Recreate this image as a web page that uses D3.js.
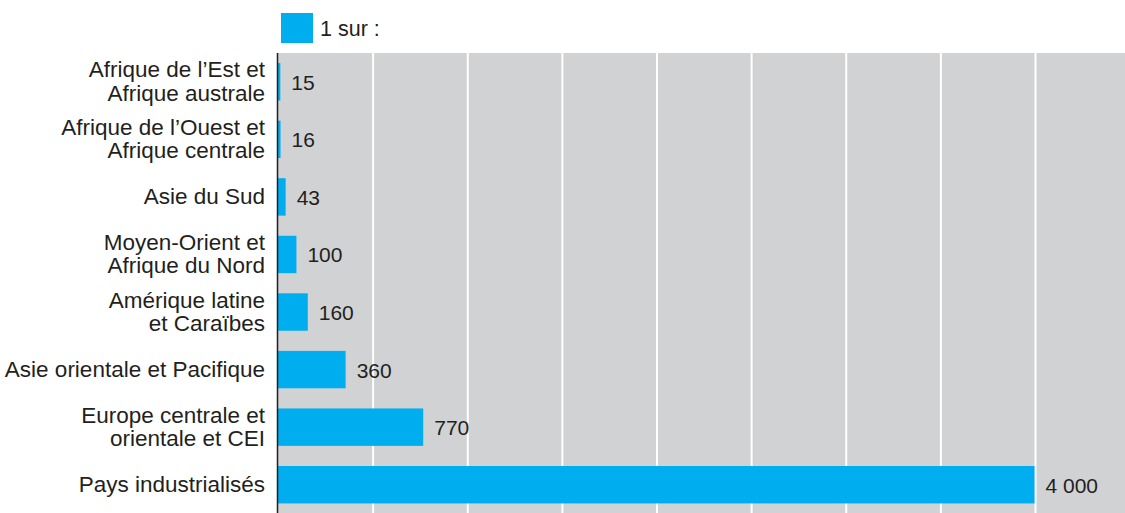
<!DOCTYPE html>
<html>
<head>
<meta charset="utf-8">
<script src="https://cdn.jsdelivr.net/npm/d3@7"></script>
<style>
  body { margin: 0; background: #fff; }
  text { font-family: "Liberation Sans", Arial, sans-serif; fill: #231f20; }
</style>
</head>
<body>
<div id="container"></div>
<script>
const width = 1125
const height = 513
const margin = {left: 277.5, top: 53, right: 0, bottom: 0}

// donnees
const categories = [
  "Afrique de l\u2019Est et\nAfrique australe",
  "Afrique de l\u2019Ouest et\nAfrique centrale",
  "Asie du Sud",
  "Moyen-Orient et\nAfrique du Nord",
  "Amérique latine\net Caraïbes",
  "Asie orientale et Pacifique",
  "Europe centrale et\norientale et CEI",
  "Pays industrialisés"
]
const values = [15, 16, 43, 100, 160, 360, 770, 4000]
const valueLabels = ["15", "16", "43", "100", "160", "360", "770", "4\u00a0000"]
const gridTicks = [500, 1000, 1500, 2000, 2500, 3000, 3500, 4000]
const legendLabel = "1 sur :"

const blue = "#00aeef"
const grey = "#d1d2d4"

const svg = d3.select("#container")
  .append("svg")
  .attr("width", width)
  .attr("height", height)

// x : 4000 -> 1034.5 px
const x = d3.scaleLinear()
  .domain([0, 4000])
  .range([margin.left, 1034.5])

const y = d3.scaleBand()
  .domain(categories)
  .range([margin.top, 513.5])
  .paddingInner(0.35)
  .paddingOuter(0.175)

// fond gris
svg.append("rect")
  .attr("x", margin.left)
  .attr("y", margin.top)
  .attr("width", width - margin.left)
  .attr("height", height - margin.top)
  .attr("fill", grey)

// grille verticale blanche
svg.append("g")
  .selectAll("line")
  .data(gridTicks)
  .join("line")
  .attr("x1", d => x(d) + 1)
  .attr("x2", d => x(d) + 1)
  .attr("y1", margin.top)
  .attr("y2", height)
  .attr("stroke", "#fff")
  .attr("stroke-width", 2)

// barres
svg.append("g")
  .selectAll("rect")
  .data(values)
  .join("rect")
  .attr("x", x(0))
  .attr("y", (d, i) => y(categories[i]))
  .attr("width", d => x(d) - x(0))
  .attr("height", y.bandwidth())
  .attr("fill", blue)

// valeurs
svg.append("g")
  .selectAll("text")
  .data(values)
  .join("text")
  .attr("x", d => x(d) + 11)
  .attr("y", (d, i) => y(categories[i]) + y.bandwidth() / 2 + 8)
  .attr("font-size", 21)
  .text((d, i) => valueLabels[i])

// axe vertical
svg.append("line")
  .attr("x1", margin.left)
  .attr("x2", margin.left)
  .attr("y1", margin.top)
  .attr("y2", height)
  .attr("stroke", "#231f20")
  .attr("stroke-width", 1.5)

// etiquettes des categories
const labels = svg.append("g")
  .selectAll("text")
  .data(categories)
  .join("text")
  .attr("text-anchor", "end")
  .attr("font-size", 22.5)

labels.each(function(d) {
  const lines = d.split("\n")
  const c = y(d) + y.bandwidth() / 2
  const first = lines.length === 1 ? c + 7.5 : c - 4.5
  d3.select(this).selectAll("tspan")
    .data(lines)
    .join("tspan")
    .attr("x", 265)
    .attr("y", (l, i) => first + i * 23.5)
    .text(l => l)
})

// legende
svg.append("rect")
  .attr("x", 281)
  .attr("y", 13)
  .attr("width", 32)
  .attr("height", 30)
  .attr("fill", blue)

svg.append("text")
  .attr("x", 320)
  .attr("y", 36)
  .attr("font-size", 21.5)
  .text(legendLabel)
</script>
</body>
</html>
